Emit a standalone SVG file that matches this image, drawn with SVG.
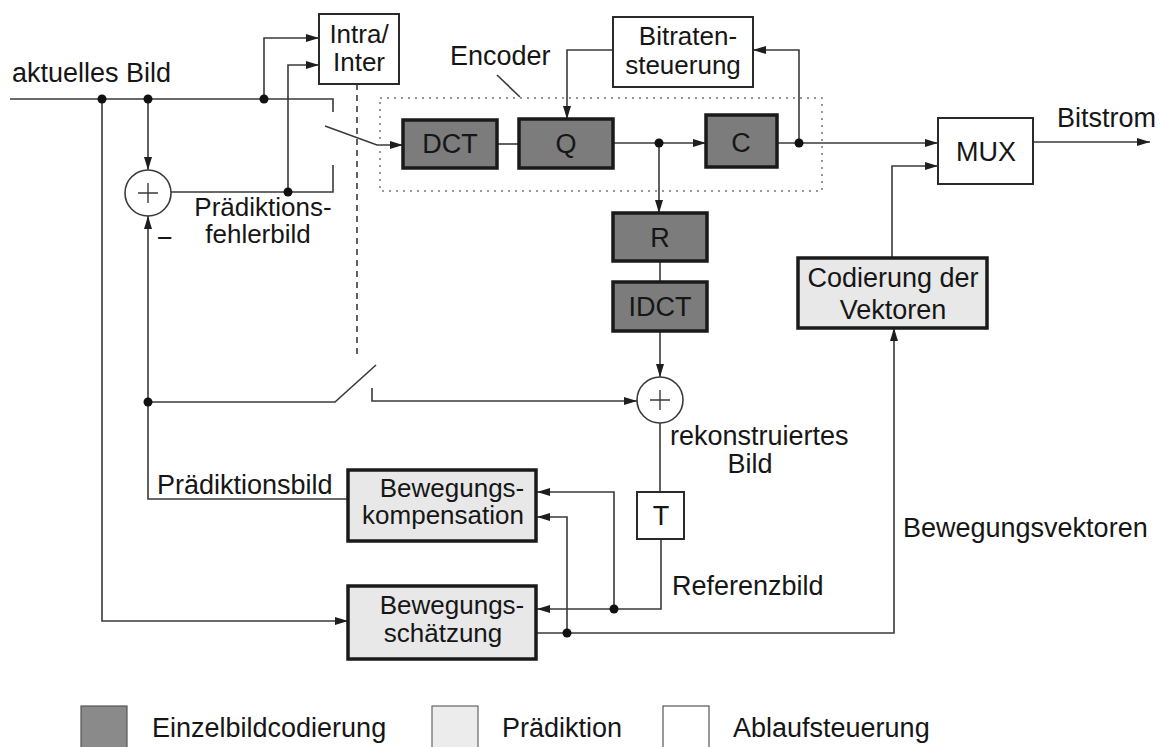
<svg xmlns="http://www.w3.org/2000/svg" width="1165" height="747" viewBox="0 0 1165 747">
<defs>
<style>
text{font-family:"Liberation Sans",Arial,Helvetica,sans-serif;font-size:27px;fill:#161616}
.m{text-anchor:middle}
.s{font-size:26px}
.dark{fill:#7c7c7c;stroke:#1a1a1a;stroke-width:3.5}
.light{fill:#e8e8e8;stroke:#1a1a1a;stroke-width:3.5}
.white{fill:#ffffff;stroke:#2a2a2a;stroke-width:2}
.ln{fill:none;stroke:#3a3a3a;stroke-width:1.6}
.arr{marker-end:url(#ah)}
.dot{fill:#111}
.plus{stroke:#3a3a3a;stroke-width:1.4}
</style>
<marker id="ah" markerUnits="userSpaceOnUse" markerWidth="14" markerHeight="10" refX="13" refY="4" orient="auto">
<path d="M0,0 L13,4 L0,8 z" fill="#1e1e1e"/>
</marker>
</defs>
<rect width="1165" height="747" fill="#ffffff"/>

<g id="connectors">
<path class="ln" d="M10,99 H333 V112"/>
<path class="ln arr" d="M325,126 L377,145 H403"/>
<path class="ln" d="M333,165 V192 H171"/>
<path class="ln arr" d="M148,99 V170"/>
<path class="ln arr" d="M264,99 V38 H319"/>
<path class="ln arr" d="M288,192 V65 H319"/>
<path class="ln" d="M357,84 V358" stroke-dasharray="6,5" stroke="#555"/>
<path class="ln" d="M497,144 H519"/>
<path class="ln arr" d="M613,143 H706"/>
<path class="ln arr" d="M659,143 V213"/>
<path class="ln" d="M660,261 V282"/>
<path class="ln arr" d="M660,331 V377"/>
<path class="ln arr" d="M777,143 H938"/>
<path class="ln arr" d="M799,143 V50 H753"/>
<path class="ln arr" d="M613,50 H567 V119"/>
<path class="ln arr" d="M1033,142 H1150"/>
<path class="ln arr" d="M892,258 V166 H938"/>
<path class="ln" d="M660,423 V492"/>
<path class="ln arr" d="M661,539 V609 H537"/>
<path class="ln arr" d="M614,609 V492 H537"/>
<path class="ln arr" d="M537,633 H894 V328"/>
<path class="ln arr" d="M567,633 V517 H537"/>
<path class="ln arr" d="M102,99 V621 H348"/>
<path class="ln" d="M148,402 H335 L376,365"/>
<path class="ln arr" d="M372,388 V401 H637"/>
<path class="ln arr" d="M348,499 H148 V216"/>
<path class="ln" d="M497,75 L520,97"/>
<circle class="dot" cx="102" cy="99" r="4.5"/>
<circle class="dot" cx="148" cy="99" r="4.5"/>
<circle class="dot" cx="264" cy="99" r="4.5"/>
<circle class="dot" cx="288" cy="192" r="4.5"/>
<circle class="dot" cx="148" cy="402" r="4.5"/>
<circle class="dot" cx="659" cy="143" r="4.5"/>
<circle class="dot" cx="799" cy="143" r="4.5"/>
<circle class="dot" cx="614" cy="609" r="4.5"/>
<circle class="dot" cx="567" cy="633" r="4.5"/>
</g>

<g id="encoder">
<rect x="380" y="98" width="442" height="93" fill="none" stroke="#777" stroke-width="1.5" stroke-dasharray="2,5"/>
<text x="450" y="65">Encoder</text>
</g>

<g id="sum1">
<circle cx="148" cy="193" r="23" fill="#fff" stroke="#3a3a3a" stroke-width="1.6"/>
<path class="plus" d="M138,193 H158 M148,183 V203"/>
</g>
<g id="sum2">
<circle cx="660" cy="400" r="23" fill="#fff" stroke="#3a3a3a" stroke-width="1.6"/>
<path class="plus" d="M650,400 H670 M660,390 V410"/>
</g>

<g id="intrainter">
<rect class="white" x="319" y="14" width="80" height="70"/>
<text class="m s" x="359" y="43">Intra/</text>
<text class="m s" x="359" y="71">Inter</text>
</g>
<g id="bitrate">
<rect class="white" x="613" y="17" width="140" height="70"/>
<text class="m s" x="688" y="45">Bitraten-</text>
<text class="m s" x="683" y="74">steuerung</text>
</g>
<g id="dct">
<rect class="dark" x="403" y="120" width="94" height="48"/>
<text class="m" x="450" y="153">DCT</text>
</g>
<g id="q">
<rect class="dark" x="519" y="119" width="94" height="49"/>
<text class="m" x="566" y="153">Q</text>
</g>
<g id="c">
<rect class="dark" x="706" y="115" width="71" height="52"/>
<text class="m" x="741" y="152">C</text>
</g>
<g id="mux">
<rect class="white" x="938" y="118" width="95" height="66"/>
<text class="m" x="986" y="161">MUX</text>
</g>
<g id="r">
<rect class="dark" x="613" y="213" width="94" height="48"/>
<text class="m" x="660" y="247">R</text>
</g>
<g id="idct">
<rect class="dark" x="613" y="282" width="94" height="49"/>
<text class="m" x="660" y="316">IDCT</text>
</g>
<g id="codvek">
<rect class="light" x="798" y="258" width="189" height="70"/>
<text class="m" x="893" y="287">Codierung der</text>
<text class="m" x="893" y="319">Vektoren</text>
</g>
<g id="t">
<rect class="white" x="637" y="492" width="47" height="47"/>
<text class="m" x="661" y="525">T</text>
</g>
<g id="komp">
<rect class="light" x="348" y="470" width="188" height="71"/>
<text class="m s" x="452" y="497">Bewegungs-</text>
<text class="m s" x="443" y="524">kompensation</text>
</g>
<g id="schaetz">
<rect class="light" x="348" y="586" width="188" height="73"/>
<text class="m s" x="452" y="614">Bewegungs-</text>
<text class="m s" x="443" y="642">schätzung</text>
</g>

<g id="labels">
<text x="12" y="82">aktuelles Bild</text>
<text class="m s" x="263" y="216">Prädiktions-</text>
<text class="m s" x="258" y="243">fehlerbild</text>
<text x="157" y="247">−</text>
<text x="157" y="494">Prädiktionsbild</text>
<text x="670" y="445">rekonstruiertes</text>
<text class="m" x="750" y="473">Bild</text>
<text x="672" y="595">Referenzbild</text>
<text x="903" y="537">Bewegungsvektoren</text>
<text x="1057" y="127">Bitstrom</text>
</g>

<g id="legend">
<rect x="81" y="706" width="46" height="50" fill="#8a8a8a" stroke="#555" stroke-width="1.2"/>
<text x="152" y="737">Einzelbildcodierung</text>
<rect x="432" y="706" width="46" height="50" fill="#ececec" stroke="#666" stroke-width="1.2"/>
<text x="502" y="737">Prädiktion</text>
<rect x="663" y="706" width="46" height="50" fill="#ffffff" stroke="#555" stroke-width="1.2"/>
<text x="733" y="737">Ablaufsteuerung</text>
</g>
</svg>
